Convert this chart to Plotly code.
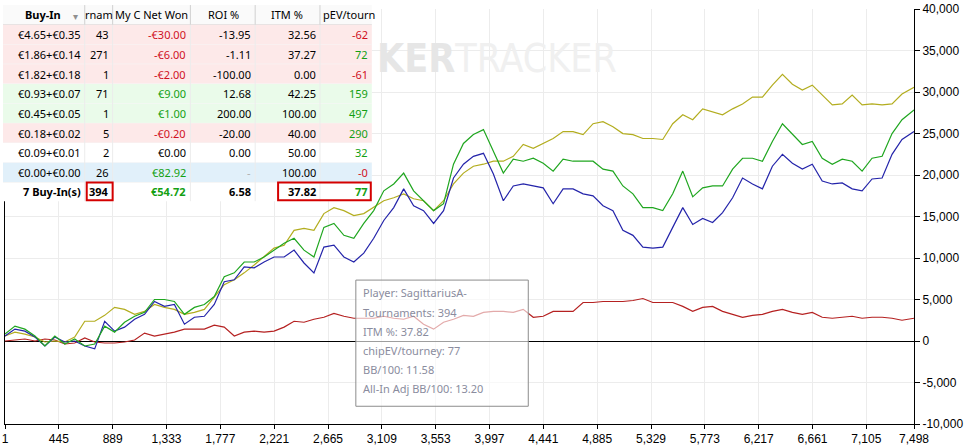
import plotly.graph_objects as go

# sample positions (hands) shared by all four lines
hands = [1, 83, 165, 248, 330, 412, 494, 576, 659, 741,
         823, 905, 987, 1070, 1152, 1234, 1316, 1398, 1481, 1563,
         1645, 1727, 1809, 1892, 1974, 2056, 2138, 2220, 2303, 2385,
         2467, 2549, 2631, 2714, 2796, 2878, 2960, 3042, 3125, 3207,
         3289, 3371, 3453, 3536, 3618, 3700, 3782, 3864, 3947, 4029,
         4111, 4193, 4275, 4358, 4440, 4522, 4604, 4686, 4769, 4851,
         4933, 5015, 5097, 5180, 5262, 5344, 5426, 5508, 5591, 5673,
         5755, 5837, 5919, 6002, 6084, 6166, 6248, 6330, 6413, 6495,
         6577, 6659, 6741, 6824, 6906, 6988, 7070, 7152, 7235, 7317,
         7399, 7498]

olive_vals = [600, 1070, 830, 480, -120, 0, -120, 480, 2380, 2380,
              3090, 4050, 3810, 3210, 3570, 4400, 4050, 3810, 3210, 3450,
              3810, 5240, 6780, 7380, 8210, 9160, 10120, 11190, 11540, 13330,
              13570, 13330, 15350, 16070, 15710, 15110, 15350, 16070, 16900, 17260,
              17730, 17140, 16900, 15710, 16900, 18920, 20230, 21060, 21300, 21660,
              21660, 22250, 23680, 23210, 23800, 24400, 25230, 25230, 24870, 26180,
              26420, 25820, 24990, 24870, 24400, 24400, 24280, 26180, 27250, 26660,
              27970, 27610, 27250, 27970, 28560, 29390, 29390, 30820, 32130, 30940,
              30230, 30820, 29630, 28440, 28560, 29630, 28440, 28560, 28440, 28560,
              29750, 30580]

green_vals = [830, 1790, 1430, 600, -600, 600, -360, 240, -600, -360,
              1790, 1070, 2260, 2980, 3450, 5000, 5000, 4760, 3210, 4050,
              4400, 5360, 7740, 8210, 9520, 9520, 10120, 10950, 11780, 12380,
              10950, 10120, 13690, 14160, 12730, 12380, 14160, 15710, 18090, 18920,
              20230, 18090, 16900, 15710, 16540, 21300, 23800, 24870, 25470, 22850,
              20230, 21900, 21660, 22020, 21420, 20470, 21900, 21660, 21660, 21660,
              20710, 20470, 18680, 17730, 16070, 16070, 15710, 17730, 20470, 17370,
              18450, 18680, 18680, 20710, 22020, 22020, 21660, 24040, 26180, 24990,
              23680, 24040, 22020, 21300, 21900, 21660, 20470, 22020, 22250, 24990,
              26660, 27850]

blue_vals = [600, 1430, 1190, 480, -600, 480, -120, 0, -600, -950,
             2380, 1190, 1670, 2620, 3210, 4760, 4170, 4400, 2020, 2860,
             2980, 4400, 7140, 7380, 8930, 8810, 9520, 10120, 10120, 10950,
             9400, 8210, 11310, 11540, 10120, 9520, 10590, 12380, 14520, 16070,
             18330, 16300, 15710, 14160, 15710, 19640, 21300, 22250, 22610, 20110,
             16900, 18680, 18920, 18680, 18450, 16540, 18330, 18330, 17730, 17490,
             16300, 15710, 13330, 12730, 11310, 11190, 11310, 13690, 16070, 14040,
             14760, 14280, 15470, 17260, 19640, 18920, 18330, 21060, 22490, 21420,
             20710, 21300, 19280, 18920, 19040, 18330, 18090, 19520, 19640, 22490,
             24280, 25230]

red_vals = [0, 120, 240, 0, 240, 120, -360, -240, 360, -120,
            -240, -240, -120, 120, 950, 600, 830, 1070, 1430, 1430,
            1430, 1900, 1670, 600, 1070, 1190, 1070, 1190, 1670, 2380,
            2260, 2620, 2860, 3330, 2980, 2740, 2740, 2740, 2980, 2740,
            2620, 2980, 2020, 1430, 2260, 2620, 3090, 2980, 3450, 3570,
            3570, 3450, 3810, 2860, 2980, 3570, 3570, 3570, 4640, 4640,
            4760, 4760, 4760, 4880, 5120, 4640, 4640, 4640, 4170, 3570,
            4050, 4170, 3570, 3210, 2860, 3090, 3210, 3570, 3810, 3450,
            3210, 3450, 2860, 2740, 2860, 2980, 2740, 2860, 2860, 2740,
            2500, 2740]

x_ticks = [1, 445, 889, 1333, 1777, 2221, 2665, 3109, 3553, 3997,
           4441, 4885, 5329, 5773, 6217, 6661, 7105, 7498]
y_ticks = [-10000, -5000, 0, 5000, 10000, 15000, 20000, 25000, 30000, 35000, 40000]

# summary table
headers = ["Buy-In", "rnam", "My C Net Won", "ROI %", "ITM %", "pEV/tourn"]
buyins = ["€4.65+€0.35", "€1.86+€0.14", "€1.82+€0.18", "€0.93+€0.07",
          "€0.45+€0.05", "€0.18+€0.02", "€0.09+€0.01", "€0.00+€0.00"]
tourneys = [43, 271, 1, 71, 1, 5, 2, 26]
net_won = [-30.00, -6.00, -2.00, 9.00, 1.00, -0.20, 0.00, 82.92]
roi = [-13.95, -1.11, -100.00, 12.68, 200.00, -20.00, 0.00, None]
itm = [32.56, 37.27, 0.00, 42.25, 100.00, 40.00, 50.00, 100.00]
pev = ["-62", "72", "-61", "159", "497", "290", "32", "-0"]
row_kind = ["loss", "loss", "loss", "win", "win", "loss", "even", "free"]
totals = ["7 Buy-In(s)", "394", "€54.72", "6.58", "37.82", "77"]

tooltip_lines = ["Player: SagittariusA-", "Tournaments: 394", "ITM %: 37.82",
                 "chipEV/tourney: 77", "BB/100: 11.58", "All-In Adj BB/100: 13.20"]

# plot area in pixels
L, R, T, B = 2, 914, 4, 425


def px(x):
    return (x - L) / (R - L)


def py(y):
    return (B - y) / (B - T)


RED = "#d0101e"
GREEN = "#13a013"
TFONT = "Noto Sans, Open Sans, sans-serif"

fig = go.Figure()
fig.add_trace(go.Scatter(x=hands, y=red_vals, mode="lines", line=dict(color="#b52121", width=1.2)))
fig.add_trace(go.Scatter(x=hands, y=olive_vals, mode="lines", line=dict(color="#b3ad1f", width=1.2)))
fig.add_trace(go.Scatter(x=hands, y=blue_vals, mode="lines", line=dict(color="#2424aa", width=1.2)))
fig.add_trace(go.Scatter(x=hands, y=green_vals, mode="lines", line=dict(color="#1fa61f", width=1.2)))

shapes = []
annots = []


def rect(x0, y0, x1, y1, fill=None, line=None, lw=1):
    shapes.append(dict(type="rect", xref="paper", yref="paper", layer="above",
                       x0=px(x0), x1=px(x1), y0=py(y0), y1=py(y1),
                       fillcolor=fill if fill else "rgba(0,0,0,0)",
                       line=dict(color=line if line else "rgba(0,0,0,0)", width=lw)))


def hline(x0, x1, y, color, lw=1):
    shapes.append(dict(type="line", xref="paper", yref="paper", layer="above",
                       x0=px(x0), x1=px(x1), y0=py(y), y1=py(y), line=dict(color=color, width=lw)))


def vline(x, y0, y1, color, lw=1):
    shapes.append(dict(type="line", xref="paper", yref="paper", layer="above",
                       x0=px(x), x1=px(x), y0=py(y0), y1=py(y1), line=dict(color=color, width=lw)))


def text(x, y, s, anchor="right", color="#000", size=11, bold=False, family=TFONT):
    if bold:
        s = "<b>" + s + "</b>"
    annots.append(dict(xref="paper", yref="paper", x=px(x), y=py(y), text=s,
                       xanchor=anchor, yanchor="middle", showarrow=False,
                       font=dict(family=family, size=size, color=color)))


# table geometry
col_edges = [0, 82, 110, 188, 253, 318, 370]
row_fill = {"loss": "#fde9e9", "win": "#eafbea", "even": "#ffffff", "free": "#e1f0fa"}

rect(0, 0, 370, 199, fill="#ffffff")
rect(0, 0, 370, 20, fill="#fafafa")
hline(0, 370, 20, "#d6d6d6")
for i, kind in enumerate(row_kind):
    rect(0, 20 + 20 * i, 370, 40 + 20 * i, fill=row_fill[kind])
    hline(0, 370, 40 + 20 * i, "#f6f6f6")
for x in col_edges[1:-1]:
    vline(x, 0, 20, "#d0d0d0")
    vline(x, 20, 199, "#ececec")

# header
text(40, 10, headers[0], anchor="center", bold=True)
text(73, 11, "▾", anchor="center", color="#909090", size=10)
text(96, 10, headers[1], anchor="center")
text(149, 10, headers[2], anchor="center")
text(221, 10, headers[3], anchor="center")
text(285, 10, headers[4], anchor="center")
text(319, 10, headers[5], anchor="left")


def money(v):
    s = "€{:.2f}".format(abs(v))
    return "-" + s if v < 0 else s


for i in range(len(buyins)):
    y = 30 + 20 * i
    text(80, y, buyins[i])
    text(108, y, str(tourneys[i]))
    nw = net_won[i]
    text(186, y, money(nw), color=RED if nw < 0 else (GREEN if nw > 0 else "#000"))
    if roi[i] is None:
        text(251, y, "-", color="#b0b0b0")
    else:
        text(251, y, "{:.2f}".format(roi[i]))
    text(316, y, "{:.2f}".format(itm[i]))
    text(368, y, pev[i], color=RED if pev[i].startswith("-") else GREEN)

yt = 189
text(80, yt, totals[0], bold=True)
text(108, yt, totals[1], bold=True)
text(186, yt, totals[2], bold=True, color=GREEN)
text(251, yt, totals[3], bold=True)
text(316, yt, totals[4], bold=True)
text(368, yt, totals[5], bold=True, color=GREEN)
rect(84, 180, 110, 198, line="#d40000", lw=2)
rect(276, 180, 369, 198, line="#d40000", lw=2)

# watermark
annots.append(dict(xref="paper", yref="paper", x=px(373), y=py(54), xanchor="left", yanchor="middle",
                   showarrow=False,
                   text='<b><span style="color:#e6e6e6">KER</span></b><span style="color:#f0f0f0">TRACKER</span>',
                   font=dict(family="Liberation Sans Narrow, DejaVu Sans Condensed, sans-serif", size=39)))

# tooltip box
rect(354, 279, 527, 407, fill="rgba(255,255,255,0.62)", line="#8c8c8c", lw=1)
for i, line in enumerate(tooltip_lines):
    text(359, 292 + 19.4 * i, line, anchor="left", color="#8a8c9e", size=11)

fig.update_layout(
    width=965, height=448,
    margin=dict(l=L, r=965 - R, t=T, b=448 - B),
    plot_bgcolor="#ffffff", paper_bgcolor="#ffffff",
    showlegend=False, hovermode=False,
    shapes=shapes, annotations=annots,
    font=dict(family="Liberation Sans, Arial, sans-serif", size=12, color="#000"),
)
fig.update_xaxes(range=[1, 7498], tickvals=x_ticks, ticktext=["{:,}".format(v) for v in x_ticks],
                 showgrid=True, gridcolor="#ececec", gridwidth=1, zeroline=False,
                 showline=True, linecolor="#000", linewidth=1, ticklabeloverflow="allow",
                 ticks="outside", ticklen=4, tickcolor="#000")
fig.update_yaxes(range=[-10000, 40000], side="right", tickvals=y_ticks,
                 ticktext=["{:,}".format(v) for v in y_ticks],
                 showgrid=True, gridcolor="#ececec", gridwidth=1,
                 zeroline=True, zerolinecolor="#000", zerolinewidth=1,
                 showline=True, linecolor="#000", linewidth=1, mirror=True,
                 ticklabeloverflow="allow",
                 ticks="outside", ticklen=5, tickcolor="#000")

# drop the default page margin so the figure sits at the window's corner
fig.write_html("out.html", config={"displayModeBar": False},
               post_script="document.body.style.margin='0';document.body.style.overflow='hidden';")
